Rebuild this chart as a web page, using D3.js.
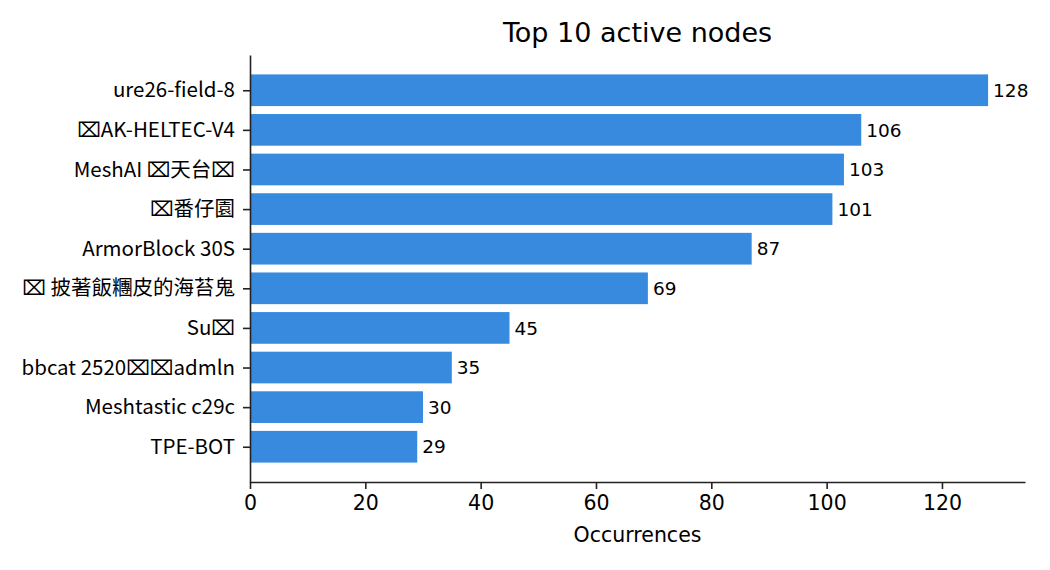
<!DOCTYPE html>
<html>
<head>
<meta charset="utf-8">
<script src="https://cdn.jsdelivr.net/npm/d3@7"></script>
<style>
  body { margin: 0; background: #fff; }
  svg { display: block; }
</style>
</head>
<body>
<div id="chart"></div>
<script>
// node names, top to bottom (glyphs the source font lacked show as boxes)
var nodes = ['ure26-field-8', '\u2327AK-HELTEC-V4', 'MeshAI \u2327天台\u2327', '\u2327番仔園', 'ArmorBlock 30S',
             '\u2327 披著飯糰皮的海苔鬼', 'Su\u2327', 'bbcat 2520\u2327\u2327admln', 'Meshtastic c29c', 'TPE-BOT'];
var counts = [128, 106, 103, 101, 87, 69, 45, 35, 30, 29];
var xTicks = [0, 20, 40, 60, 80, 100, 120];

var W = 1050, H = 570;
var margin = {top: 55, right: 25, bottom: 88, left: 250};
var width = W - margin.left - margin.right,
    height = H - margin.top - margin.bottom;

var svg = d3.select('#chart').append('svg')
    .attr('width', W)
    .attr('height', H);
var chart = svg.append('g')
    .attr('transform', 'translate(' + margin.left + ',' + margin.top + ')');

// scales (matplotlib style 5% margins)
var xScale = d3.scaleLinear()
    .domain([0, d3.max(counts) * 1.05])
    .range([0, width]);
var yScale = d3.scaleLinear()
    .domain([-0.89, 9.89])
    .range([0, height]);
var barH = yScale(0.8) - yScale(0);

var tickFont = "'DejaVu Sans', sans-serif";
var cjkFont = "'Noto Sans CJK TC', 'Noto Sans CJK JP', 'Noto Sans CJK SC', 'DejaVu Sans', sans-serif";

// bars
chart.selectAll('rect.bar')
    .data(counts)
    .enter()
    .append('rect').classed('bar', true)
    .attr('x', xScale(0))
    .attr('y', function(d, i) { return yScale(i) - barH / 2; })
    .attr('width', function(d) { return xScale(d) - xScale(0); })
    .attr('height', barH)
    .style('fill', '#388ade');

// value labels
chart.selectAll('text.value')
    .data(counts)
    .enter()
    .append('text').classed('value', true)
    .text(function(d) { return d; })
    .attr('x', function(d) { return xScale(d) + 5; })
    .attr('y', function(d, i) { return yScale(i); })
    .attr('dy', '0.36em')
    .style('font-family', tickFont)
    .style('font-size', '18.5px')
    .style('fill', '#000');

// x axis
function customXAxis(g) {
    g.call(xAxis);
    g.select('.domain').style('stroke', '#222').style('stroke-width', 1.6);
    g.selectAll('line').style('stroke', '#222').style('stroke-width', 1.6);
    g.selectAll('text')
        .style('font-family', tickFont)
        .style('font-size', '20.5px')
        .style('fill', '#000');
}
var xAxis = d3.axisBottom()
    .scale(xScale)
    .tickValues(xTicks)
    .tickSize(7)
    .tickSizeOuter(0)
    .tickPadding(6);
chart.append('g')
    .attr('transform', 'translate(0,' + height + ')')
    .call(customXAxis);

// y axis
function customYAxis(g) {
    g.call(yAxis);
    g.select('.domain').style('stroke', '#222').style('stroke-width', 1.6);
    g.selectAll('line').style('stroke', '#222').style('stroke-width', 1.6);
    g.selectAll('text')
        .style('font-family', cjkFont)
        .style('font-size', '20.5px')
        .style('fill', '#000');
}
var yAxis = d3.axisLeft()
    .scale(yScale)
    .tickValues(d3.range(nodes.length))
    .tickFormat(function(d) { return nodes[d]; })
    .tickSize(7)
    .tickSizeOuter(0)
    .tickPadding(8);
chart.append('g').call(customYAxis);

// title
svg.append('text')
    .text('Top 10 active nodes')
    .attr('x', margin.left + width / 2)
    .attr('y', 42)
    .attr('text-anchor', 'middle')
    .style('font-family', tickFont)
    .style('font-size', '27px')
    .style('fill', '#000');

// x label
svg.append('text')
    .text('Occurrences')
    .attr('x', margin.left + width / 2)
    .attr('y', 542)
    .attr('text-anchor', 'middle')
    .style('font-family', tickFont)
    .style('font-size', '20.5px')
    .style('fill', '#000');
</script>
</body>
</html>
